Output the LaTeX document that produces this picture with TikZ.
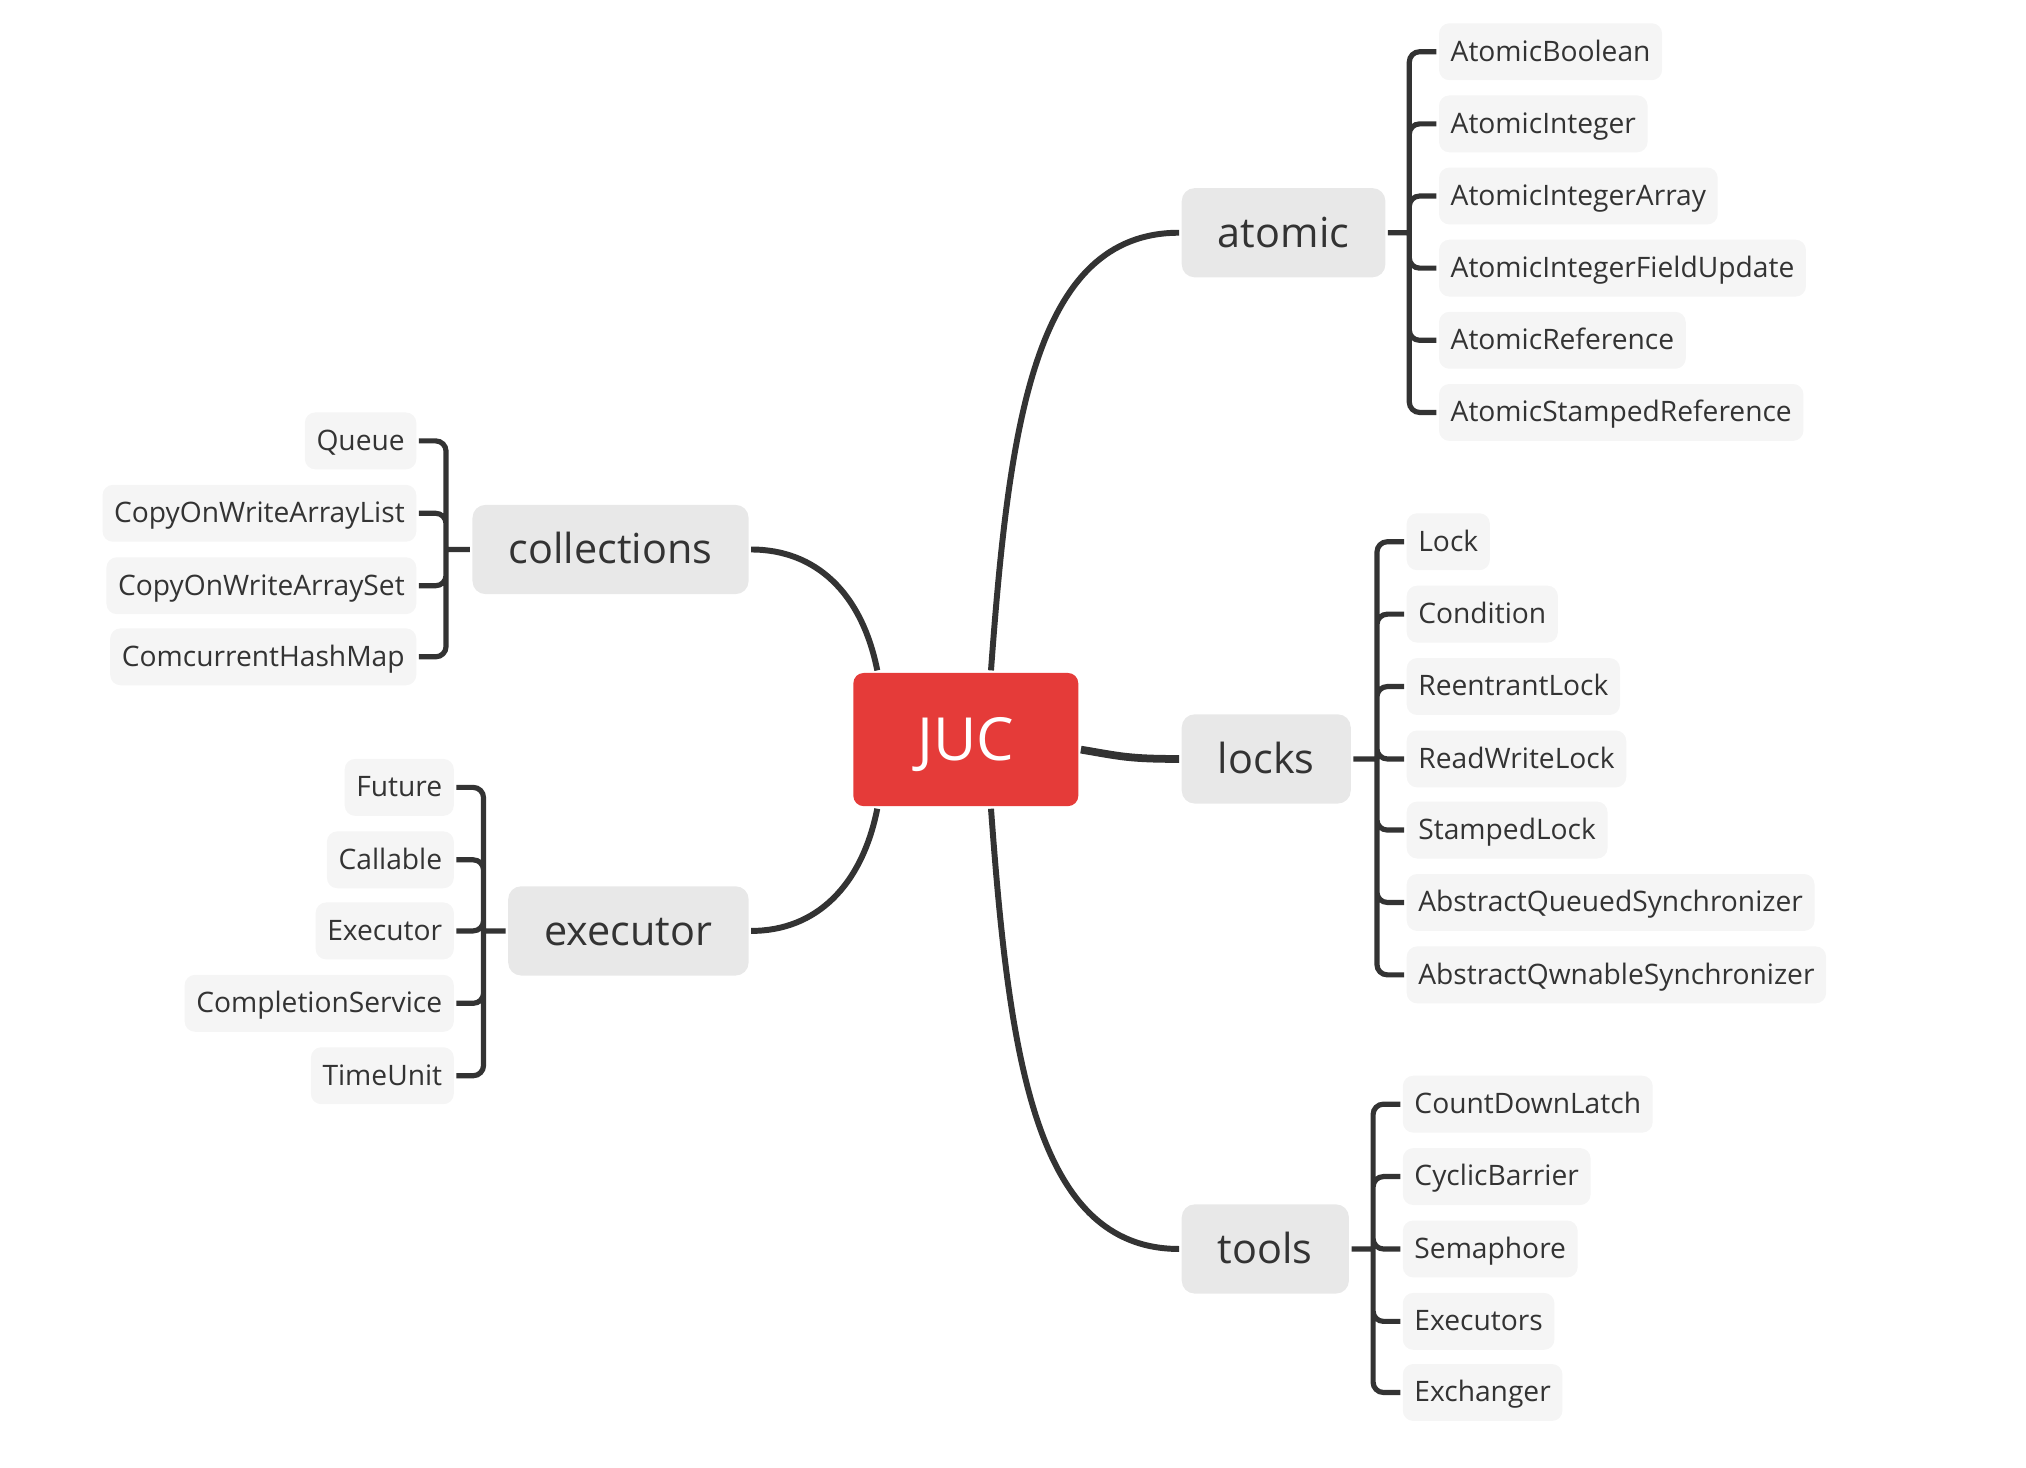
\documentclass[tikz,border=0pt]{standalone}
\usepackage{fontspec}
\setmainfont{Open Sans}
\usetikzlibrary{positioning}
\definecolor{linegray}{HTML}{333333}
\definecolor{leafgray}{HTML}{F5F5F5}
\definecolor{branchgray}{HTML}{E8E8E8}
\definecolor{jucred}{HTML}{E53B39}

\begin{document}
\begin{tikzpicture}[x=0.5pt,y=-0.5pt,line width=2pt,
  root/.style={fill=jucred,text=white,rounded corners=4pt,minimum width=87pt,minimum height=51.5pt,text height=19pt,text depth=2.6pt,font=\fontsize{23}{26}\selectfont},
  branch/.style={fill=branchgray,text=linegray,rounded corners=5pt,inner xsep=14pt,minimum height=34.5pt,text height=14pt,text depth=2.8pt,font=\fontsize{16}{19}\selectfont},
  leaf/.style={fill=leafgray,text=linegray,rounded corners=4pt,inner xsep=4.5pt,minimum height=22pt,text height=9.5pt,text depth=2.3pt,font=\fontsize{10.9}{13}\selectfont},
  link/.style={draw=linegray,line width=2.3pt},
  fork/.style={draw=linegray,line width=2pt,rounded corners=4pt}]

\useasboundingbox (0,0) rectangle (1567,1135.4);

% define the centre and the branches
  \node[root] (juc) at (747,572) {JUC};
  \node[branch, anchor=west] (atomic) at (912,180) {atomic};
  \node[branch, anchor=west] (locks) at (912,587) {locks};
  \node[branch, anchor=west] (tools) at (912,966) {tools};
  \node[branch, anchor=east] (collections) at (581,425) {collections};
  \node[branch, anchor=east] (executor) at (581,720) {executor};

% atomic leaves
  \node[leaf, anchor=west] (ab) at (1111,40) {AtomicBoolean};
  \node[leaf, anchor=west] (ai) at (1111,95.8) {AtomicInteger};
  \node[leaf, anchor=west] (aia) at (1111,151.6) {AtomicIntegerArray};
  \node[leaf, anchor=west] (aifu) at (1111,207.4) {AtomicIntegerFieldUpdate};
  \node[leaf, anchor=west] (ar) at (1111,263.2) {AtomicReference};
  \node[leaf, anchor=west] (asr) at (1111,319) {AtomicStampedReference};

% locks leaves
  \node[leaf, anchor=west] (lk) at (1086,419) {Lock};
  \node[leaf, anchor=west] (cond) at (1086,475) {Condition};
  \node[leaf, anchor=west] (rl) at (1086,531) {ReentrantLock};
  \node[leaf, anchor=west] (rwl) at (1086,587) {ReadWriteLock};
  \node[leaf, anchor=west] (sl) at (1086,642) {StampedLock};
  \node[leaf, anchor=west] (aqs) at (1086,698) {AbstractQueuedSynchronizer};
  \node[leaf, anchor=west] (aos) at (1086,754) {AbstractQwnableSynchronizer};

% tools leaves
  \node[leaf, anchor=west] (cdl) at (1083,854) {CountDownLatch};
  \node[leaf, anchor=west] (cb) at (1083,910) {CyclicBarrier};
  \node[leaf, anchor=west] (sem) at (1083,966) {Semaphore};
  \node[leaf, anchor=west] (exs) at (1083,1022) {Executors};
  \node[leaf, anchor=west] (exch) at (1083,1077) {Exchanger};

% collections leaves
  \node[leaf, anchor=east] (q) at (324,341) {Queue};
  \node[leaf, anchor=east] (cowal) at (324,397) {CopyOnWriteArrayList};
  \node[leaf, anchor=east] (cowas) at (324,453) {CopyOnWriteArraySet};
  \node[leaf, anchor=east] (chm) at (324,508) {ComcurrentHashMap};

% executor leaves
  \node[leaf, anchor=east] (fut) at (353,609) {Future};
  \node[leaf, anchor=east] (call) at (353,665) {Callable};
  \node[leaf, anchor=east] (exe) at (353,720) {Executor};
  \node[leaf, anchor=east] (cs) at (353,776) {CompletionService};
  \node[leaf, anchor=east] (tu) at (353,832) {TimeUnit};

% fork points
  \coordinate (atomicfork) at (1090,180);
  \coordinate (locksfork) at (1065,587);
  \coordinate (toolsfork) at (1062,966);
  \coordinate (collfork) at (345,425);
  \coordinate (execfork) at (374,720);

% define the links from the centre
  \path[link] (juc.70) .. controls +(14,-190) and +(-112,0) .. (atomic.west);
  \path[link,line width=3pt] (juc.-5) .. controls +(30,5) and +(-40,0) .. (locks.west);
  \path[link] (juc.-70) .. controls +(14,190) and +(-112,0) .. (tools.west);
  \path[link] (juc.142) .. controls +(-12,-60) and +(50,0) .. (collections.east);
  \path[link] (juc.218) .. controls +(-12,60) and +(50,0) .. (executor.east);

% define the forks to the leaves
  \path[fork] (atomic.east) -- (atomicfork)
    (atomicfork) |- (ab.west) (atomicfork) |- (ai.west)
    (atomicfork) |- (aia.west) (atomicfork) |- (aifu.west)
    (atomicfork) |- (ar.west) (atomicfork) |- (asr.west);
  \path[fork] (locks.east) -- (locksfork)
    (locksfork) |- (lk.west) (locksfork) |- (cond.west)
    (locksfork) |- (rl.west) (locksfork) |- (rwl.west)
    (locksfork) |- (sl.west) (locksfork) |- (aqs.west)
    (locksfork) |- (aos.west);
  \path[fork] (tools.east) -- (toolsfork)
    (toolsfork) |- (cdl.west) (toolsfork) |- (cb.west)
    (toolsfork) |- (sem.west) (toolsfork) |- (exs.west)
    (toolsfork) |- (exch.west);
  \path[fork] (collections.west) -- (collfork)
    (collfork) |- (q.east) (collfork) |- (cowal.east)
    (collfork) |- (cowas.east) (collfork) |- (chm.east);
  \path[fork] (executor.west) -- (execfork)
    (execfork) |- (fut.east) (execfork) |- (call.east)
    (execfork) |- (exe.east) (execfork) |- (cs.east)
    (execfork) |- (tu.east);

\end{tikzpicture}
\end{document}
